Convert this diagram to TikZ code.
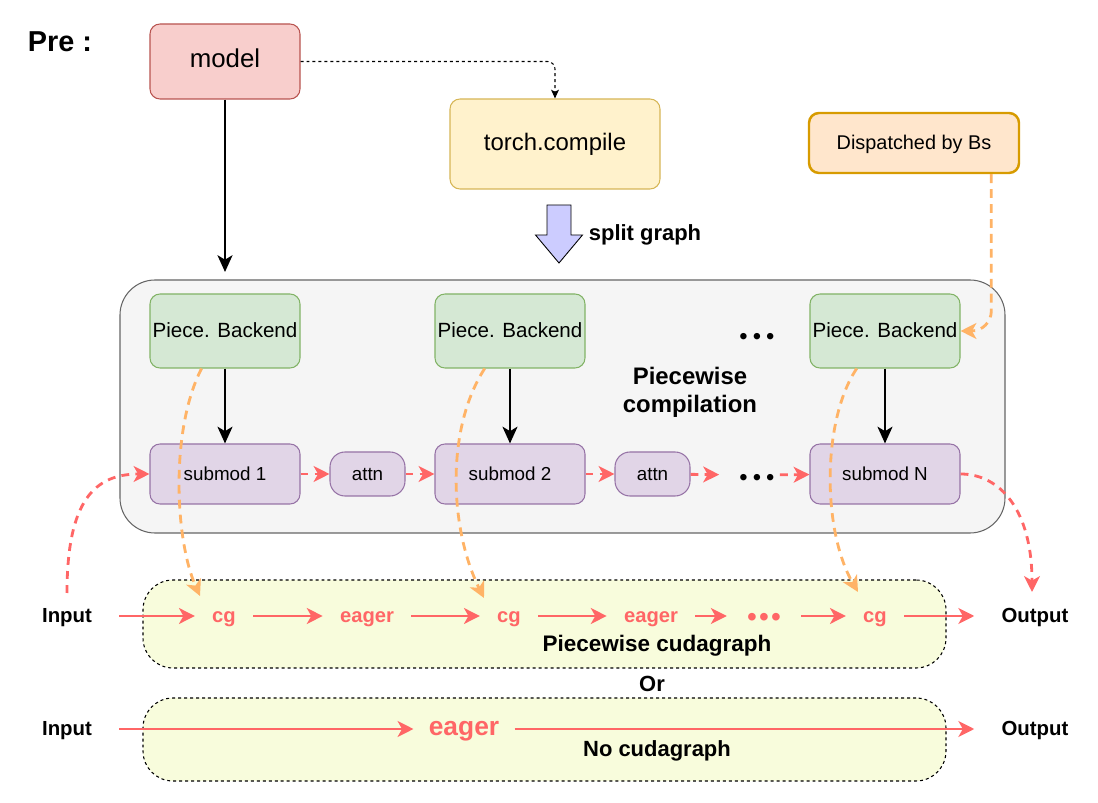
\documentclass[tikz,border=0pt]{standalone}
\usepackage{fontspec}
\setmainfont{Liberation Sans}
\usepackage{xcolor}
\usetikzlibrary{arrows.meta}

\definecolor{mdlfill}{HTML}{F8CECC}
\definecolor{mdldraw}{HTML}{B85450}
\definecolor{tcfill}{HTML}{FFF2CC}
\definecolor{tcdraw}{HTML}{D6B656}
\definecolor{dspfill}{HTML}{FFE6CC}
\definecolor{dspdraw}{HTML}{D79B00}
\definecolor{pbfill}{HTML}{D5E8D4}
\definecolor{pbdraw}{HTML}{82B366}
\definecolor{smfill}{HTML}{E1D5E7}
\definecolor{smdraw}{HTML}{9673A6}
\definecolor{pcfill}{HTML}{F5F5F5}
\definecolor{pcdraw}{HTML}{666666}
\definecolor{cgfill}{HTML}{F8FCDC}
\definecolor{redln}{HTML}{FF6666}
\definecolor{orgln}{HTML}{FFB366}
\definecolor{blkfill}{HTML}{CCCCFF}

\newcommand{\fsz}[2]{\fontsize{#1}{#2}\selectfont}
\newcommand{\dotrow}[1]{\raisebox{-2.8pt}{•\hspace{#1}•\hspace{#1}•}}

\begin{document}
\begin{tikzpicture}[
    box/.style={draw, rounded corners=0.2cm, line width=0.6pt, minimum width=3cm,
                minimum height=1.5cm, inner sep=1pt, text height=0.9em, text depth=0.21em},
    mdlbox/.style={box, fill=mdlfill, draw=mdldraw, font=\fsz{14.7}{17}},
    tcbox/.style={box, fill=tcfill, draw=tcdraw, minimum width=4.2cm,
                  minimum height=1.8cm, font=\fsz{13.6}{16}},
    dspbox/.style={box, fill=dspfill, draw=dspdraw, line width=1.4pt, minimum width=4.2cm,
                   minimum height=1.2cm, font=\fsz{11.3}{13}},
    pbbox/.style={box, fill=pbfill, draw=pbdraw, minimum height=1.48cm, font=\fsz{11.7}{14}},
    smbox/.style={box, fill=smfill, draw=smdraw, minimum height=1.2cm, font=\fsz{10.7}{13}},
    attnbox/.style={smbox, rounded corners=0.3cm, minimum width=1.5cm, minimum height=0.88cm},
    cgbox/.style={draw, fill=cgfill, dash pattern=on 1.7pt off 1.7pt, line width=0.6pt,
                  rounded corners=0.6cm, minimum width=16.06cm},
    flowtxt/.style={text=redln, font=\fsz{11.5}{14}\bfseries, inner xsep=0.34cm,
                    text height=0.9em, text depth=0.21em},
    iotxt/.style={font=\fsz{11.6}{14}\bfseries, inner xsep=0.54cm,
                  text height=0.9em, text depth=0.21em},
    dotstxt/.style={font=\fsz{13.5}{16}, text height=0.9em, text depth=0.21em,
                    inner xsep=0.1cm},
    blkarr/.style={-{Stealth[length=9.5pt, width=8.5pt, inset=2.5pt]}, line width=1.5pt},
    thindash/.style={-{Stealth[length=5pt, width=4.5pt, inset=1.2pt]}, line width=0.6pt,
                     dash pattern=on 1.7pt off 1.7pt, rounded corners=0.15cm},
    redarr/.style={-{Stealth[length=9pt, width=9pt, inset=2.5pt]}, draw=redln, line width=1.6pt},
    reddash/.style={redarr, dash pattern=on 4.5pt off 3.5pt},
    orgdash/.style={-{Stealth[length=9pt, width=9pt, inset=2.5pt]}, draw=orgln, line width=1.6pt,
                    dash pattern=on 5pt off 3.5pt}
]
\useasboundingbox (0,0) rectangle (21.96,-16.06);

% ================================================================
%  Pre : model / torch.compile / dispatch
% ================================================================
\node[font=\fsz{16.4}{20}\bfseries] (pre) at (1.2,-0.84) {Pre :};
\node[mdlbox] (model) at (4.5,-1.23) {model};
\node[tcbox] (tc) at (11.1,-2.88) {torch.compile};
\node[dspbox] (dsp) at (18.28,-2.86) {Dispatched by Bs};

\draw[thindash] (model.east) -| (tc.north);

% split graph block arrow
\draw[fill=blkfill, line width=0.5pt] (10.94,-4.1) -- (11.42,-4.1) -- (11.42,-4.7)
    -- (11.65,-4.7) -- (11.18,-5.26) -- (10.71,-4.7) -- (10.94,-4.7) -- cycle;
\node[font=\fsz{12.5}{15}\bfseries] (split) at (12.9,-4.7) {split graph};

% ================================================================
%  Piecewise compilation
% ================================================================
\node[draw=pcdraw, fill=pcfill, line width=0.6pt, rounded corners=0.7cm,
      minimum width=17.7cm, minimum height=5.06cm] (pcomp) at (11.25,-8.13) {};

\coordinate (mdlend) at (4.5,-5.44);
\draw[blkarr] (model) -- (mdlend);

\foreach \x/\k/\lab in {4.5/1/1, 10.2/2/2, 17.7/3/N} {
    \node[pbbox] (pb\k) at (\x,-6.62) {Piece. Backend};
    \node[smbox] (sm\k) at (\x,-9.48) {submod \lab};
    \draw[blkarr] (pb\k) -- (sm\k);
}

\node[attnbox] (at1) at (7.35,-9.48) {attn};
\node[attnbox] (at2) at (13.05,-9.48) {attn};
\node[dotstxt] (dtop) at (15.14,-6.68) {\dotrow{2.9pt}};
\node[dotstxt] (dmid) at (15.14,-9.5) {\dotrow{2.9pt}};
\node[font=\fsz{13.6}{15.9}\bfseries, align=center] (pclbl) at (13.8,-7.84)
    {Piecewise\\compilation};

% red dashed chain
\draw[reddash] (sm1) -- (at1);
\draw[reddash] (at1) -- (sm2);
\draw[reddash] (sm2) -- (at2);
\draw[reddash, shorten >=0.3cm] (at2) -- (dmid);
\draw[reddash] (dmid) -- (sm3);

% ================================================================
%  Cudagraph rows
% ================================================================
\node[cgbox, minimum height=1.76cm] (pwcg) at (10.89,-12.48) {};
\node[cgbox, minimum height=1.66cm] (nocg) at (10.89,-14.79) {};

\node[iotxt] (in1) at (1.34,-12.32) {Input};
\node[flowtxt] (cg1) at (4.48,-12.32) {cg};
\node[flowtxt] (eg1) at (7.34,-12.32) {eager};
\node[flowtxt] (cg2) at (10.18,-12.32) {cg};
\node[flowtxt] (eg2) at (13.02,-12.32) {eager};
\node[dotstxt, text=redln, font=\fsz{16}{19}, inner xsep=0.4cm] (dbot) at (15.28,-12.32)
    {\dotrow{1.2pt}};
\node[flowtxt] (cg3) at (17.5,-12.32) {cg};
\node[iotxt] (out1) at (20.7,-12.32) {Output};

\foreach \a/\b in {in1/cg1, cg1/eg1, eg1/cg2, cg2/eg2, eg2/dbot, dbot/cg3, cg3/out1}
    \draw[redarr] (\a) -- (\b);

\node[font=\fsz{12.8}{15}\bfseries] (pwlbl) at (13.14,-12.92) {Piecewise cudagraph};
\node[font=\fsz{12.5}{15}\bfseries] (orlbl) at (13.04,-13.68) {Or};

\node[iotxt] (in2) at (1.34,-14.58) {Input};
\node[flowtxt, font=\fsz{15}{18}\bfseries, inner xsep=0.3cm] (eg3) at (9.28,-14.58) {eager};
\node[iotxt] (out2) at (20.7,-14.58) {Output};
\draw[redarr] (in2) -- (eg3);
\draw[redarr] (eg3) -- (out2);
\node[font=\fsz{12.5}{15}\bfseries] (nolbl) at (13.14,-15.02) {No cudagraph};

% input / output curves
\coordinate (incv) at (1.34,-11.86);
\coordinate (outcv) at (20.64,-11.84);
\draw[reddash] (incv) .. controls (1.34,-10.0) and (1.9,-9.48) .. (sm1.west);
\draw[reddash] (sm3.east) .. controls (20.0,-9.48) and (20.64,-10.2) .. (outcv);

% backend -> cg (orange)
\coordinate (cgin1) at (4.0,-11.92);
\coordinate (cgin2) at (9.68,-11.96);
\coordinate (cgin3) at (17.16,-11.84);
\draw[orgdash] (pb1.-122) .. controls (3.4,-8.6) and (3.5,-10.8) .. (cgin1);
\draw[orgdash] (pb2.-124) .. controls (8.9,-8.6) and (9.0,-10.6) .. (cgin2);
\draw[orgdash] (pb3.-127) .. controls (16.44,-8.4) and (16.44,-10.6) .. (cgin3);
\draw[orgdash, rounded corners=0.4cm] (dsp.-22) |- (pb3.east);
\end{tikzpicture}
\end{document}
